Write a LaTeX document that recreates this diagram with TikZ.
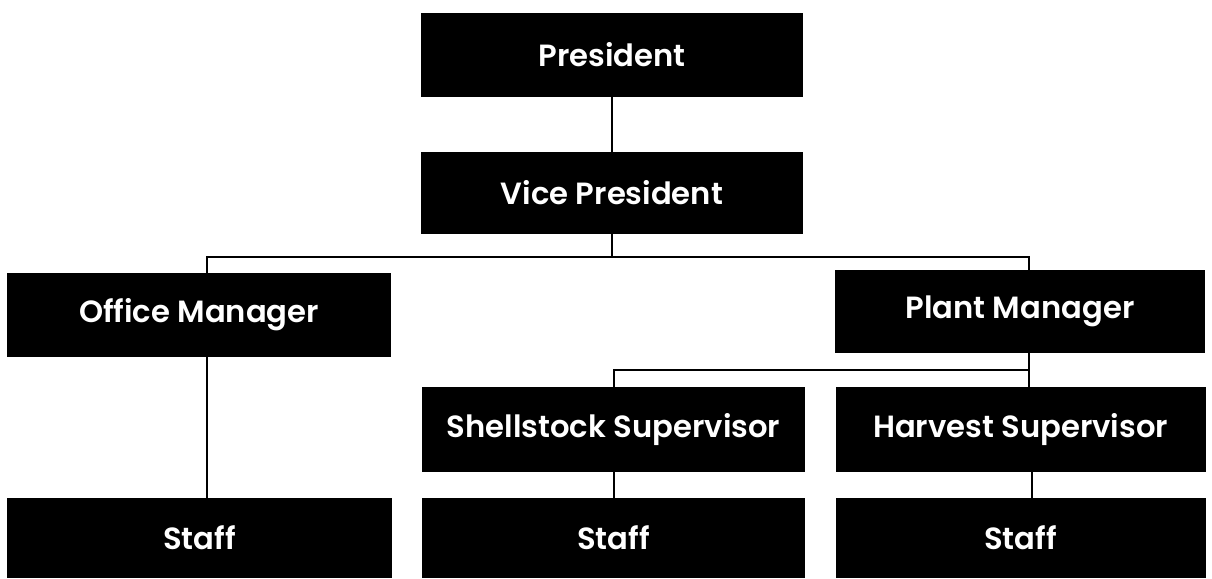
\documentclass[tikz,border=0pt]{standalone}
\usepackage{fontspec}
\setmainfont{Poppins}[UprightFont={* SemiBold}]
\begin{document}
\begin{tikzpicture}[x=0.75pt,y=-0.75pt,
  orgbox/.style={fill=black,text=white,inner sep=0pt,font=\fontsize{23}{26}\selectfont},
  link/.style={draw=black,line width=2.1pt}]
\useasboundingbox (0,0) rectangle (1212,578);
% boxes
\node[orgbox,minimum width=382*0.75pt,minimum height=84*0.75pt] (P) at (612,55) {President};
\node[orgbox,minimum width=382*0.75pt,minimum height=82*0.75pt] (VP) at (612,193) {Vice President};
\node[orgbox,minimum width=384*0.75pt,minimum height=84*0.75pt] (OM) at (199,315) {Office Manager};
\node[orgbox,minimum width=370*0.75pt,minimum height=83*0.75pt] (PM) at (1020,311.5) {Plant Manager};
\node[orgbox,minimum width=383*0.75pt,minimum height=85*0.75pt] (SS) at (613.5,429.5) {Shellstock Supervisor};
\node[orgbox,minimum width=370*0.75pt,minimum height=85*0.75pt] (HS) at (1020.5,429.5) {Harvest Supervisor};
\node[orgbox,minimum width=385*0.75pt,minimum height=80*0.75pt] (S1) at (199.5,538) {Staff};
\node[orgbox,minimum width=383*0.75pt,minimum height=80*0.75pt] (S2) at (613.5,538) {Staff};
\node[orgbox,minimum width=370*0.75pt,minimum height=80*0.75pt] (S3) at (1020.5,538) {Staff};
% line positions
\coordinate (bus) at (612,257);
\coordinate (bus2) at (612,370);
\coordinate (omx) at (207,0);
\coordinate (pmx) at (1029,0);
\coordinate (ssx) at (614,0);
\coordinate (hsx) at (1032,0);
% connectors
\draw[link] (P.south) -- (VP.north);
\draw[link] (VP.south) -- (VP.south |- bus);
\draw[link] (OM.north -| omx) -- (omx |- bus) -- (pmx |- bus) -- (PM.north -| pmx);
\draw[link] (PM.south -| pmx) -- (HS.north -| pmx);
\draw[link] (SS.north -| ssx) -- (ssx |- bus2) -- (pmx |- bus2);
\draw[link] (OM.south -| omx) -- (S1.north -| omx);
\draw[link] (SS.south -| ssx) -- (S2.north -| ssx);
\draw[link] (HS.south -| hsx) -- (S3.north -| hsx);
\end{tikzpicture}
\end{document}
